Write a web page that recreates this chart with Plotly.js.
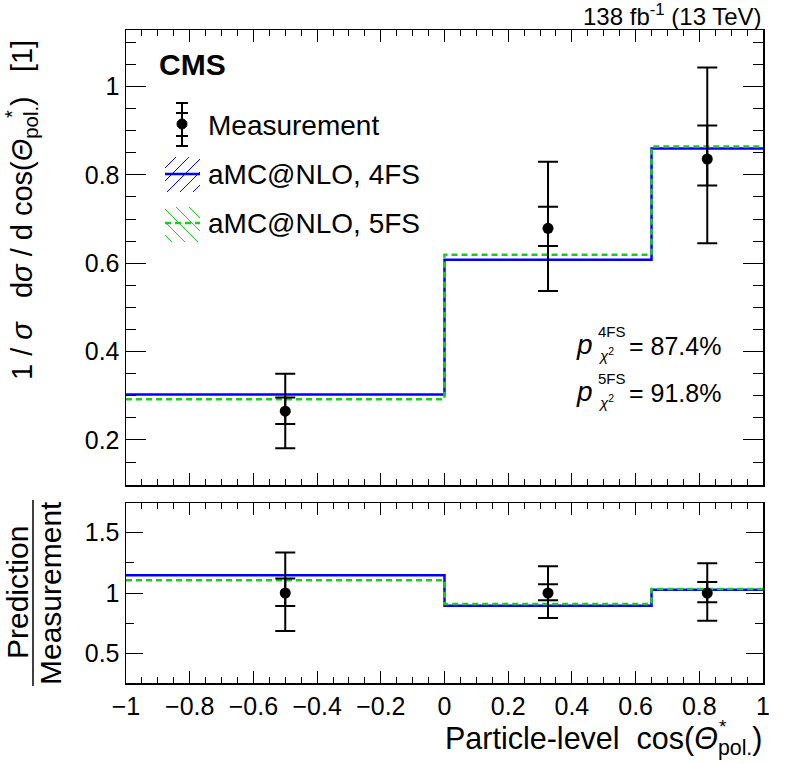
<!DOCTYPE html>
<html><head><meta charset="utf-8">
<script src="https://cdn.plot.ly/plotly-3.0.1.min.js"></script>
<style>html,body{margin:0;padding:0;background:#fff}#plot{width:788px;height:764px}</style>
</head><body><div id="plot"></div>
<script>
// ---------- data ----------
const binEdges   = [-1, 0, 0.65, 1];
const binCenters = [-0.5, 0.325, 0.825];
const measValue  = [0.265, 0.679, 0.836];
const totalHi    = [0.350, 0.830, 1.043];
const totalLo    = [0.181, 0.537, 0.645];
const statHi     = [0.296, 0.728, 0.912];
const statLo     = [0.236, 0.639, 0.776];
const pred4FS    = [0.303, 0.608, 0.860];
const pred5FS    = [0.292, 0.619, 0.864];
// ratio panel (prediction / measurement)
const ratioMeas    = [1, 1, 1];
const ratioTotalHi = [1.333, 1.220, 1.245];
const ratioTotalLo = [0.687, 0.794, 0.772];
const ratioStatHi  = [1.119, 1.072, 1.091];
const ratioStatLo  = [0.893, 0.940, 0.923];
const ratio4FS     = [1.146, 0.895, 1.027];
const ratio5FS     = [1.105, 0.909, 1.033];
const pValue4FS = "87.4%";
const pValue5FS = "91.8%";
const legendLabels = ["Measurement", "aMC@NLO, 4FS", "aMC@NLO, 5FS"];

// ---------- helpers ----------
const FONT = "Liberation Sans, Arial, Helvetica, sans-serif";
const BLUE = "#0000ff", GREEN = "#1ccc1c";
const L = 126, R = 763, T = 30, B = 683, W = R - L, H = B - T;
const px = x => (x - L) / W;
const py = y => (B - y) / H;
const stepY = v => v.concat([v[v.length - 1]]);
const diff = (a, b) => a.map((v, i) => v - b[i]);

function errTrace(xa, ya, xs, ys, hi, lo, showMarker) {
  return {
    x: xs, y: ys, xaxis: xa, yaxis: ya, type: "scatter", mode: "markers",
    showlegend: false, hoverinfo: "skip",
    marker: {color: "black", size: showMarker ? 11 : 1, opacity: showMarker ? 1 : 0},
    error_y: {type: "data", symmetric: false, array: diff(hi, ys), arrayminus: diff(ys, lo),
              color: "black", thickness: 2, width: 10}
  };
}
function stepTrace(xa, ya, vals, color, dash, w) {
  return {x: binEdges, y: stepY(vals), xaxis: xa, yaxis: ya, type: "scatter", mode: "lines",
          line: {shape: "hv", color: color, width: w, dash: dash}, showlegend: false, hoverinfo: "skip"};
}

const traces = [
  stepTrace("x", "y", pred4FS, BLUE, "solid", 2.5),
  stepTrace("x", "y", pred5FS, GREEN, "6px,4px", 2.5),
  errTrace("x", "y", binCenters, measValue, totalHi, totalLo, true),
  errTrace("x", "y", binCenters, measValue, statHi, statLo, false),
  stepTrace("x2", "y2", ratio4FS, BLUE, "solid", 2.5),
  stepTrace("x2", "y2", ratio5FS, GREEN, "6px,4px", 2.5),
  errTrace("x2", "y2", binCenters, ratioMeas, ratioTotalHi, ratioTotalLo, true),
  errTrace("x2", "y2", binCenters, ratioMeas, ratioStatHi, ratioStatLo, false)
];

// ---------- legend / decoration shapes in pixel space ----------
const shapes = [];
function seg(x0, y0, x1, y1, color, w, dash) {
  shapes.push({type: "line", xref: "paper", yref: "paper", x0: px(x0), y0: py(y0), x1: px(x1), y1: py(y1),
               line: {color: color, width: w, dash: dash || "solid"}});
}
function hatch(x0, y0, x1, y1, dir, step, color) {
  for (let c = -200; c < 1200; c += step) {
    let a, b;
    if (dir === "/") { a = Math.max(x0, c - y1); b = Math.min(x1, c - y0);
      if (b > a) seg(a, c - a, b, c - b, color, 1); }
    else { a = Math.max(x0, c + y0); b = Math.min(x1, c + y1);
      if (b > a) seg(a, a - c, b, b - c, color, 1); }
  }
}
// measurement legend symbol
seg(182, 103, 182, 146, "black", 2);
[103, 113, 136, 146].forEach(y => seg(176, y, 188, y, "black", 2));
shapes.push({type: "circle", xref: "paper", yref: "paper", x0: px(177), x1: px(187), y0: py(119), y1: py(129),
             fillcolor: "black", line: {color: "black", width: 1}});
// 4FS
hatch(165, 157, 200, 192, "/", 13, BLUE);
seg(165, 174, 200, 174, BLUE, 2.5);
// 5FS
hatch(165, 207, 200, 242, "\\", 13, GREEN);
seg(165, 223, 200, 223, GREEN, 2.5, "6px,4px");
// ratio title fraction bar
seg(33, 500, 33, 686, "black", 1.5);

function ann(text, x, y, size, opts) {
  return Object.assign({text: text, xref: "paper", yref: "paper", x: px(x), y: py(y), showarrow: false,
    xanchor: "left", yanchor: "middle", font: {family: FONT, size: size, color: "black"}}, opts || {});
}
const NB = "\u00a0";
const annotations = [
  ann("<b>CMS</b>", 157, 64, 30),
  ann("138 fb<sup>-1</sup> (13 TeV)", 764, 15, 24, {xanchor: "right"}),
  ann(legendLabels[0], 206, 126, 28),
  ann(legendLabels[1], 206, 174, 28),
  ann(legendLabels[2], 206, 223, 28),
  ann("<i>p</i>", 574, 344, 28),
  ann("4FS", 596, 331, 15),
  ann("<i>χ</i><sup>2</sup>", 596, 354, 15),
  ann("= " + pValue4FS, 627, 346, 25),
  ann("<i>p</i>", 574, 391, 28),
  ann("5FS", 596, 378, 15),
  ann("<i>χ</i><sup>2</sup>", 596, 401, 15),
  ann("= " + pValue5FS, 627, 393, 25),
  // y title (the star is stacked over the subscript)
  ann("1 / <i>σ</i>" + NB + NB + " d<i>σ</i> / d" + NB + "cos(<i>Θ</i><sub>pol.</sub>)" + NB + NB + " [1]",
      24, 210, 29, {xanchor: "center", textangle: -90}),
  ann("*", 12, 114, 20, {xanchor: "center", textangle: -90}),
  ann("Prediction", 17, 593, 30, {xanchor: "center", textangle: -90}),
  ann("Measurement", 50, 593, 30, {xanchor: "center", textangle: -90}),
  ann("Particle-level" + NB + NB + "cos(<i>Θ</i><sub>pol.</sub>)", 764, 740, 30.5, {xanchor: "right"}),
  ann("*", 723, 726, 19, {xanchor: "center"})
];

const axBase = {showline: true, linecolor: "black", linewidth: 1.5, mirror: "allticks", ticks: "inside",
  tickcolor: "black", tickwidth: 1, zeroline: false, showgrid: false,
  tickfont: {family: FONT, size: 25, color: "black"}};

const layout = {
  width: 788, height: 764, paper_bgcolor: "white", plot_bgcolor: "white",
  margin: {l: L, r: 788 - R, t: T, b: 764 - B, pad: 0},
  showlegend: false, font: {family: FONT, color: "black"},
  xaxis: Object.assign({}, axBase, {anchor: "y", range: [-1, 1], dtick: 0.2, ticklen: 12, showticklabels: false,
    minor: {ticks: "inside", dtick: 0.05, ticklen: 6, tickcolor: "black", tickwidth: 1}}),
  yaxis: Object.assign({}, axBase, {domain: [py(485), 1], range: [0.098, 1.128], dtick: 0.2, ticklen: 20,
    minor: {ticks: "inside", dtick: 0.05, ticklen: 10, tickcolor: "black", tickwidth: 1}}),
  xaxis2: Object.assign({}, axBase, {anchor: "y2", matches: "x", range: [-1, 1], dtick: 0.2, ticklen: 12,
    minor: {ticks: "inside", dtick: 0.05, ticklen: 6, tickcolor: "black", tickwidth: 1}}),
  yaxis2: Object.assign({}, axBase, {domain: [0, py(503)], range: [0.258, 1.742], dtick: 0.5, ticklen: 17,
    minor: {ticks: "inside", dtick: 0.25, ticklen: 8, tickcolor: "black", tickwidth: 1}}),
  shapes: shapes, annotations: annotations
};

Plotly.newPlot("plot", traces, layout, {displayModeBar: false, staticPlot: true});
</script></body></html>
